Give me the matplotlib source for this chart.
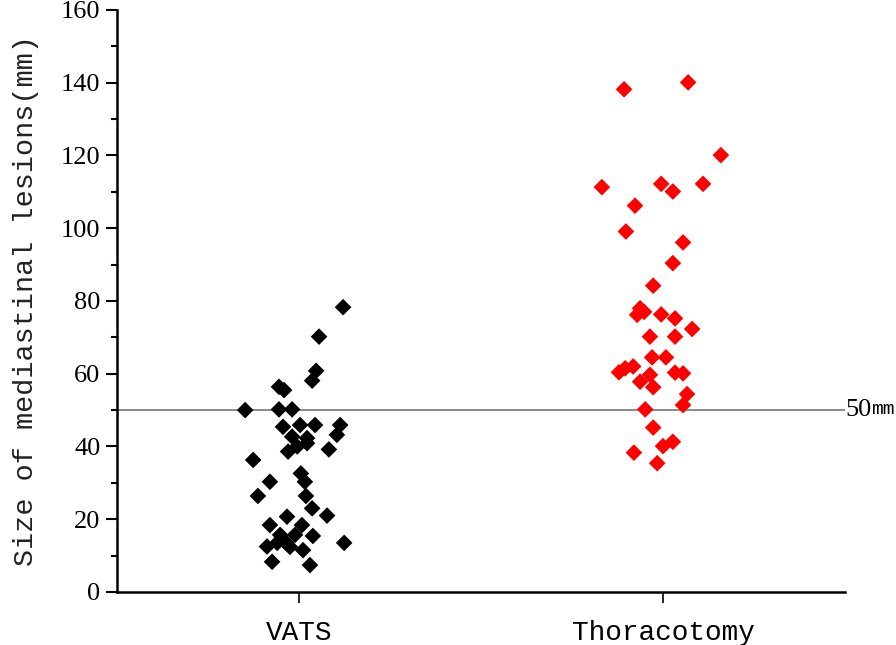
import matplotlib
matplotlib.use("Agg")
import matplotlib.pyplot as plt
from matplotlib.ticker import MultipleLocator

categories = ["VATS", "Thoracotomy"]
cutoff = 50

vats_values = [78.3, 70.2, 60.8, 58.1, 56.4, 55.5, 50.0, 50.2, 50.2, 45.4, 45.9, 45.9, 45.9,
               43.2, 42.7, 42.3, 40.0, 40.9, 38.6, 39.2, 36.3, 32.6, 30.3, 30.3, 26.4, 26.4,
               23.0, 20.7, 21.0, 18.4, 18.4, 15.7, 15.7, 13.8, 13.5, 12.4, 15.4, 12.5, 11.5,
               13.5, 8.3, 7.4]
vats_jitter = [0.121, 0.055, 0.047, 0.036, -0.055, -0.041, -0.148, -0.055, -0.019, -0.044,
               0.003, 0.044, 0.113, 0.104, -0.019, 0.022, -0.005, 0.022, -0.030, 0.082,
               -0.126, 0.005, 0.016, -0.080, -0.113, 0.019, 0.036, -0.033, 0.077, -0.080,
               0.008, -0.052, -0.011, -0.038, -0.060, -0.025, 0.038, -0.088, 0.011, 0.124,
               -0.074, 0.030]

thor_values = [138.2, 140.1, 120.1, 111.3, 112.2, 110.1, 112.2, 106.2, 99.1, 96.1, 90.4,
               84.2, 78.0, 77.0, 76.2, 76.3, 75.2, 72.3, 70.2, 70.2, 64.5, 64.5, 62.0, 61.5,
               60.4, 60.3, 60.1, 59.7, 57.8, 56.3, 54.4, 51.4, 50.2, 45.2, 40.1, 41.3, 38.3,
               35.4]
thor_jitter = [-0.107, 0.069, 0.159, -0.168, -0.005, 0.027, 0.110, -0.077, -0.102, 0.055,
               0.027, -0.027, -0.063, -0.052, -0.071, -0.005, 0.033, 0.080, -0.036, 0.033,
               -0.030, 0.008, -0.082, -0.104, -0.121, 0.033, 0.055, -0.036, -0.063, -0.027,
               0.066, 0.055, -0.049, -0.027, 0.0, 0.027, -0.080, -0.016]

fig = plt.figure(figsize=(8.96, 6.45), dpi=100)
ax = fig.add_axes([0.1306, 0.0822, 0.8125, 0.9023])

ax.axhline(cutoff, color="#808080", linewidth=1.3, zorder=1)

ax.scatter([1 + j for j in vats_jitter], vats_values, marker="D", s=72,
           color="black", edgecolors="none", zorder=3, clip_on=False)
ax.scatter([2 + j for j in thor_jitter], thor_values, marker="D", s=72,
           color="#FF0000", edgecolors="none", zorder=3, clip_on=False)

ax.set_xlim(0.5, 2.5)
ax.set_ylim(0, 160)
ax.set_xticks([1, 2])
ax.set_xticklabels(categories, family="Liberation Mono", fontsize=20)
ax.yaxis.set_major_locator(MultipleLocator(20))
ax.yaxis.set_minor_locator(MultipleLocator(10))
for lab in ax.get_yticklabels():
    lab.set_family("Liberation Serif")
    lab.set_fontsize(19)

ax.tick_params(axis="y", which="major", direction="out", length=8, width=1.5, pad=4)
ax.tick_params(axis="y", which="minor", direction="out", length=4, width=1.5)
ax.tick_params(axis="x", which="major", direction="out", length=8, width=1.2, pad=12)

for side in ["top", "right"]:
    ax.spines[side].set_visible(False)
for side in ["left", "bottom"]:
    ax.spines[side].set_linewidth(1.8)

ax.set_ylabel("Size of mediastinal lesions(mm)", family="Liberation Mono",
              fontsize=20.5, labelpad=16, color="#222222")

t50 = ax.text(1.0, cutoff, "50", transform=ax.get_yaxis_transform(),
              family="Liberation Serif", fontsize=19, va="center", ha="left",
              clip_on=False)
ax.annotate("mm", xy=(1, 0.12), xycoords=t50, family="Liberation Mono",
            fontsize=14, va="bottom", ha="left", annotation_clip=False)

fig.savefig("out.png", dpi=100)
